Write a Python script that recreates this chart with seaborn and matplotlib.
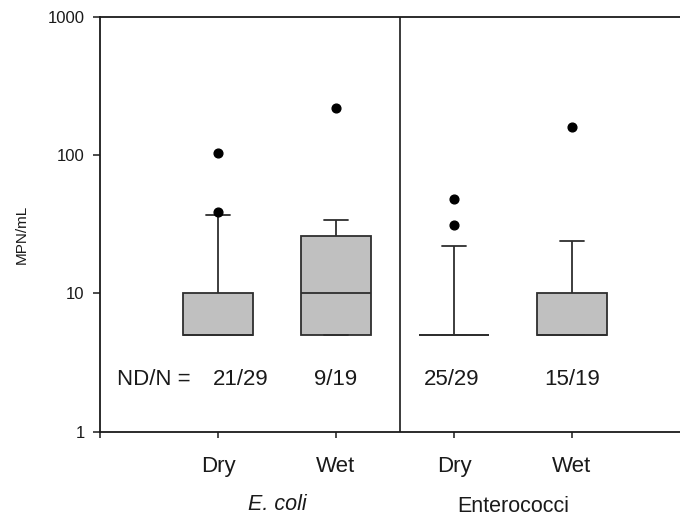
import numpy as np
import pandas as pd
import matplotlib
matplotlib.use("Agg")
import matplotlib.pyplot as plt
import matplotlib.transforms as mtransforms
import seaborn as sns

# Bacteria concentrations (MPN/mL); non-detects are entered at the 5 MPN/mL reporting limit
ecoli_dry = [5] * 21 + [10, 15, 20, 30, 37, 37, 39, 104]
ecoli_wet = [5] * 9 + [10, 12, 15, 20, 26, 26, 30, 34, 34, 220]
entero_dry = [5] * 25 + [22, 22, 31, 48]
entero_wet = [5] * 13 + [10, 10, 15, 24, 24, 160]

groups = ["E. coli Dry", "E. coli Wet", "Enterococci Dry", "Enterococci Wet"]
season_labels = ["Dry", "Wet", "Dry", "Wet"]
nd_counts = ["21/29", "9/19", "25/29", "15/19"]
organisms = ["E. coli", "Enterococci"]
y_ticks = [1, 10, 100, 1000]

df = pd.DataFrame({
    "group": np.repeat(groups, [len(ecoli_dry), len(ecoli_wet), len(entero_dry), len(entero_wet)]),
    "value": ecoli_dry + ecoli_wet + entero_dry + entero_wet,
})

sns.set_style("ticks")
plt.rcParams["font.family"] = ["Liberation Sans", "DejaVu Sans"]

fig = plt.figure(figsize=(6.8, 5.17), dpi=100)
ax = fig.add_axes([100 / 680, 1 - 431.5 / 517, 580 / 680, 414.5 / 517])
ax.set_yscale("log")

sns.boxplot(
    data=df, x="group", y="value", order=groups, ax=ax,
    whis=(10, 90), width=0.6, color="#c0c0c0", linecolor="#2e2e2e",
    linewidth=1.3, fliersize=6.3, saturation=1,
    flierprops=dict(marker="o", markerfacecolor="black", markeredgecolor="black"),
    capwidths=0.21,
)

ax.set_ylim(1, 1000)
ax.set_xlim(-1.0, 3.915)
ax.set_yticks(y_ticks)
ax.set_yticklabels([str(t) for t in y_ticks])
ax.yaxis.set_minor_locator(matplotlib.ticker.NullLocator())
ax.set_xticks([-1, 0, 1, 2, 3])
ax.set_xticklabels([""] + season_labels)
ax.set_xlabel("")
ax.set_ylabel("")

ax.tick_params(axis="y", direction="out", length=5, width=1.1, labelsize=12,
               pad=6, colors="#1a1a1a")
ax.tick_params(axis="x", direction="out", length=4.5, width=1.1, labelsize=16,
               pad=13, colors="#1a1a1a")

for side in ["left", "bottom", "top"]:
    ax.spines[side].set_visible(True)
    ax.spines[side].set_color("#1a1a1a")
    ax.spines[side].set_linewidth(1.3)
ax.spines["right"].set_visible(False)

# Divider between the two indicator organisms
ax.axvline(1.54, color="#1a1a1a", lw=1.2)

# Non-detect counts
ax.text(-0.86, 2.36, "ND/N =", fontsize=16, ha="left", va="center", color="#1a1a1a")
for xpos, label in zip([0.19, 1.0, 1.98, 3.0], nd_counts):
    ax.text(xpos, 2.36, label, fontsize=16, ha="center", va="center", color="#1a1a1a")

# Organism labels under the season tick labels
trans = mtransforms.blended_transform_factory(ax.transData, fig.transFigure)
ax.text(0.5, 1 - 505 / 517, organisms[0], transform=trans, fontsize=15.5,
        style="italic", ha="center", va="center", color="#1a1a1a")
ax.text(2.5, 1 - 506 / 517, organisms[1], transform=trans, fontsize=15.5,
        ha="center", va="center", color="#1a1a1a")

fig.text(22 / 680, 1 - 234 / 517, "MPN/mL", rotation=90, fontsize=11,
         ha="center", va="center", color="#1a1a1a")

fig.savefig("out.png", dpi=100, facecolor="white")
